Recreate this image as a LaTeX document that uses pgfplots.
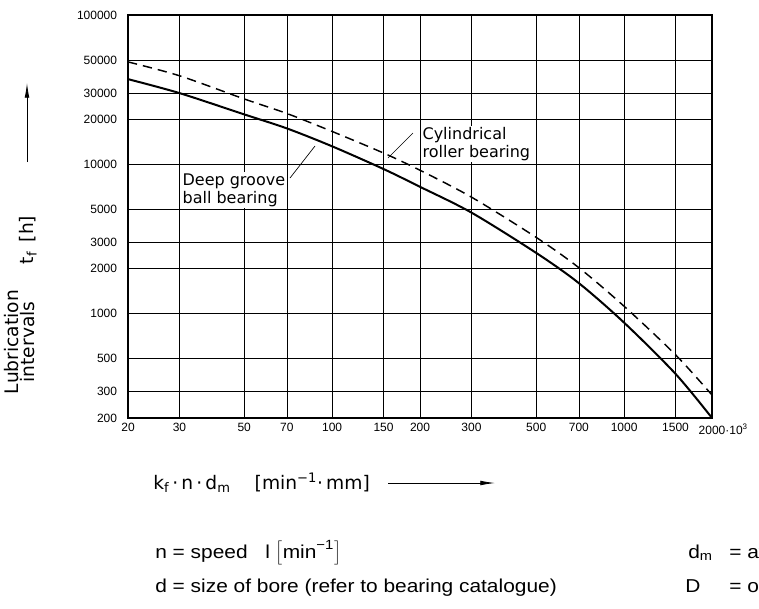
\documentclass[border=0pt]{standalone}
\usepackage{graphicx}
\usepackage{fontspec}
\setmainfont{Liberation Sans}
\newfontfamily\iso{DejaVu Sans}
\usepackage{pgfplots}
\pgfplotsset{compat=1.18}
\usetikzlibrary{arrows.meta}

\begin{document}
\begin{tikzpicture}
\begin{loglogaxis}[
  at={(96pt,-313.5pt)}, anchor=south west,
  scale only axis, width=438pt, height=302.25pt,
  xmin=20, xmax=2000, ymin=200, ymax=100000,
  xtick={20,30,50,70,100,150,200,300,500,700,1000,1500,2000},
  xticklabels={20,30,50,70,100,150,200,300,500,700,1000,1500,{2000\rlap{·10\textsuperscript{3}}}},
  ytick={200,300,500,1000,2000,3000,5000,10000,20000,30000,50000,100000},
  yticklabels={200,300,500,1000,2000,3000,5000,10000,20000,30000,50000,100000},
  minor xtick={}, minor ytick={},
  grid=major, major grid style={black, line width=0.55pt},
  major tick length=0pt,
  axis line style={line width=1.3pt},
  ticklabel style={font=\fontsize{9}{10}\selectfont},
  xticklabel style={anchor=north, inner sep=0pt, yshift=-4pt},
  yticklabel style={anchor=east, inner sep=0pt, xshift=-8pt},
]
% deep groove ball bearing
\addplot[black, line width=1.5pt, smooth] coordinates {
  (20,37200) (30,30000) (50,21600) (70,17400) (100,13200) (150,9300)
  (200,7070) (300,4750) (500,2550) (700,1600) (1000,870) (1500,395) (2000,200)
};
% cylindrical roller bearing
\addplot[black, line width=1.1pt, dash pattern=on 7pt off 4.5pt, smooth] coordinates {
  (20,48500) (30,39200) (50,27400) (70,21900) (100,16600) (150,11900)
  (200,9120) (300,6030) (500,3240) (700,2030) (1000,1120) (1500,530) (2000,285)
};
\end{loglogaxis}

\begin{scope}[x=0.75pt, y=-0.75pt]
% curve labels
\node[font=\iso\fontsize{12}{13.5}\selectfont, fill=white, inner sep=1pt,
  align=left, anchor=north west] at (181,172) {Deep groove\\ball bearing};
\draw[line width=0.5pt] (290,178) -- (315,146);
\node[font=\iso\fontsize{12}{13.5}\selectfont, fill=white, inner sep=1pt,
  align=left, anchor=north west] at (421,126) {Cylindrical\\roller bearing};
\draw[line width=0.5pt] (388,158) -- (413,133);

% y label
\node[rotate=90, align=center, font=\iso\fontsize{14}{12}\selectfont]
  at (20,342) {Lubrication\\intervals};
\node[rotate=90, font=\iso\fontsize{14}{12}\selectfont]
  at (28,240) {t\textsubscript{f}\hspace{7pt}[h]};
\draw[line width=0.6pt, -{Latex[length=11pt, width=3.5pt]}] (27,162) -- (27,83);

% x label
\node[anchor=west, inner sep=0pt, font=\iso\fontsize{14}{15}\selectfont] at (153,483)
  {k\textsubscript{f}\,·\,n\,·\,d\textsubscript{m}\hspace{18pt}[min\textsuperscript{−1}·\,mm]};
\draw[line width=0.6pt, -{Latex[length=11pt, width=3.5pt]}] (388,483) -- (495,483);

% notes below
\begingroup\fontsize{14}{16}\selectfont
\node[anchor=base west, inner sep=0pt] at (155,558) {\scalebox{1.12}[1]{n = speed}};
\node[anchor=base west, inner sep=0pt] at (265,558)
  {\scalebox{1.12}[1]{l $\left[\mbox{min}^{\mbox{\fontsize{10}{10}\selectfont −1}}\right]$}};
\node[anchor=base west, inner sep=0pt] at (155,592)
  {\scalebox{1.12}[1]{d = size of bore (refer to bearing catalogue)}};
\node[anchor=base west, inner sep=0pt] at (688,558) {\scalebox{1.12}[1]{d\textsubscript{m}}};
\node[anchor=base west, inner sep=0pt] at (729,558) {\scalebox{1.12}[1]{= average bearing diameter}};
\node[anchor=base west, inner sep=0pt] at (685,592) {\scalebox{1.12}[1]{D}};
\node[anchor=base west, inner sep=0pt] at (729,592) {\scalebox{1.12}[1]{= outside diameter}};
\endgroup

\pgfresetboundingbox
\useasboundingbox (0,0) rectangle (759,608);
\end{scope}
\end{tikzpicture}
\end{document}
